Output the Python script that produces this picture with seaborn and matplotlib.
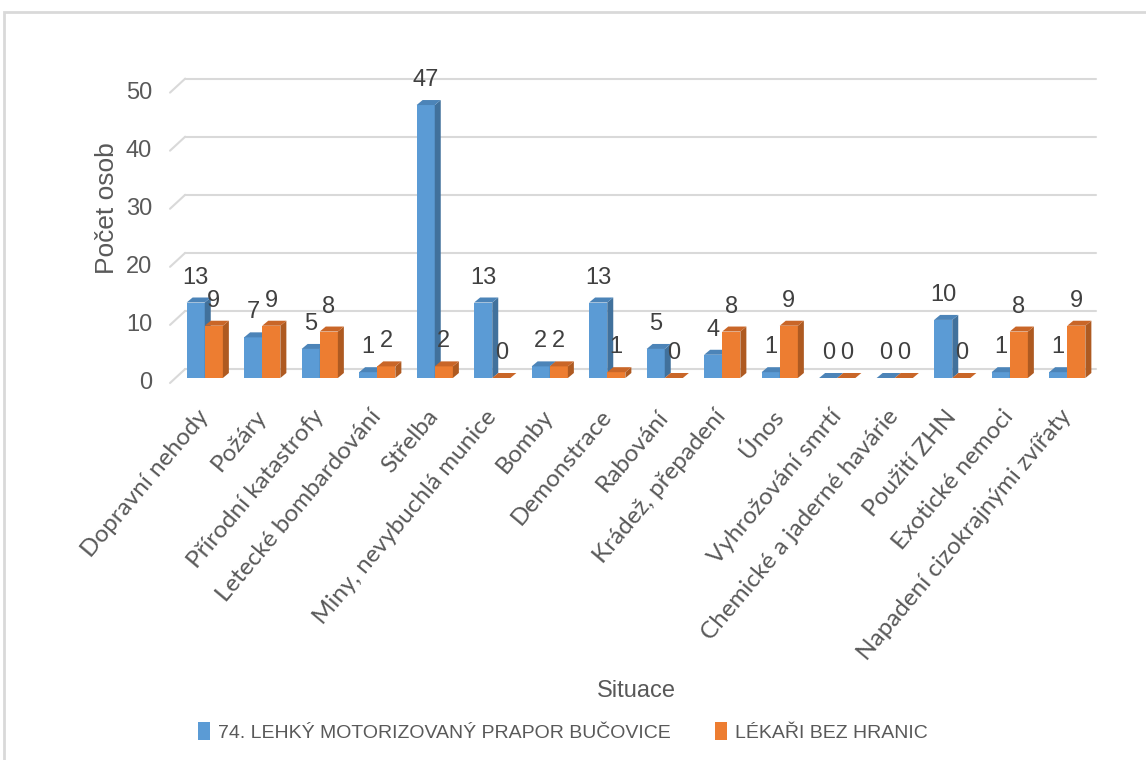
import pandas as pd
import matplotlib.pyplot as plt
import seaborn as sns
from matplotlib import font_manager, transforms
from matplotlib.patches import Polygon, Rectangle

# Data
situace = ['Dopravní nehody', 'Požáry', 'Přírodní katastrofy', 'Letecké bombardování',
           'Střelba', 'Miny, nevybuchlá munice', 'Bomby', 'Demonstrace', 'Rabování',
           'Krádež, přepadení', 'Únos', 'Vyhrožování smrtí', 'Chemické a jaderné havárie',
           'Použití ZHN', 'Exotické nemoci', 'Napadení cizokrajnými zvířaty']
prapor = [13, 7, 5, 1, 47, 13, 2, 13, 5, 4, 1, 0, 0, 10, 1, 1]
lekari = [9, 9, 8, 2, 2, 0, 2, 1, 0, 8, 9, 0, 0, 0, 8, 9]
skupiny = ['74. LEHKÝ MOTORIZOVANÝ PRAPOR BUČOVICE', 'LÉKAŘI BEZ HRANIC']
yticks = [0, 10, 20, 30, 40, 50]

barvy = ['#5B9BD5', '#ED7D31']
bocni = ['#41719C', '#AE5A21']
horni = ['#4C84B8', '#C96628']
sedy = '#595959'

df = pd.DataFrame({
    'Situace': situace * 2,
    'Počet osob': prapor + lekari,
    'Skupina': [skupiny[0]] * len(situace) + [skupiny[1]] * len(situace),
})

sns.set_style('white')
names = {f.name for f in font_manager.fontManager.ttflist}
narrow = 'Liberation Sans Narrow' if 'Liberation Sans Narrow' in names else 'Liberation Sans'
plt.rcParams['font.family'] = [narrow, 'DejaVu Sans']

fig = plt.figure(figsize=(11.46, 7.6), dpi=100)
W, H = 1146, 760
ax = fig.add_axes([176 / W, (H - 378) / H, 920 / W, (378 - 76) / H])

sns.barplot(data=df, x='Situace', y='Počet osob', hue='Skupina', palette=barvy,
            width=0.63, saturation=1, linewidth=0, ax=ax)
handles, labels = ax.get_legend_handles_labels()
ax.legend_.remove()

ax.set_xlim(-0.5, len(situace) - 0.5)
ax.set_ylim(0, 52)
for s in ax.spines.values():
    s.set_visible(False)
ax.tick_params(length=0)

# pixel scale
px_x = ax.transData.transform((1, 0))[0] - ax.transData.transform((0, 0))[0]
px_y = ax.transData.transform((0, 1))[1] - ax.transData.transform((0, 0))[1]
dx = 6 / px_x
dy = 5 / px_y

# 3D look: side and top faces for each bar
for i, cont in enumerate(ax.containers):
    for bar in cont:
        x, w, h = bar.get_x(), bar.get_width(), bar.get_height()
        bar.set_zorder(3 + i)
        side = Polygon([(x + w, 0), (x + w + dx, dy), (x + w + dx, h + dy), (x + w, h)],
                       closed=True, facecolor=bocni[i], edgecolor='none', zorder=3.1 + i)
        top = Polygon([(x, h), (x + dx, h + dy), (x + w + dx, h + dy), (x + w, h)],
                      closed=True, facecolor=horni[i], edgecolor='none', zorder=3.2 + i)
        ax.add_patch(side)
        ax.add_patch(top)
    ax.bar_label(cont, padding=10, fontsize=17, color='#404040', zorder=6)

# gridlines on the back wall with a perspective stub
ax.set_yticks(yticks)
ax.set_yticklabels([])
blend = transforms.blended_transform_factory(ax.transAxes, ax.transData)
for t in yticks:
    back = t + 9 / px_y
    front = t - 5 / px_y
    ax.plot([0.01, 1.0], [back, back], transform=blend, color='#D9D9D9', lw=1.5,
            zorder=1, clip_on=False)
    ax.plot([-0.0065, 0.01], [front, back], transform=blend, color='#D9D9D9', lw=1.5,
            zorder=1, clip_on=False)
    ax.text(-0.026, front, str(t), transform=blend, ha='right', va='center',
            fontsize=17, color=sedy)

# category labels
ax.tick_params(axis='x', pad=25)
ax.set_xticks(range(len(situace)))
ax.set_xticklabels(situace, rotation=50, ha='right', va='center', rotation_mode='anchor',
                   fontsize=17.5, color=sedy, family=['Lato', 'DejaVu Sans'])

ax.set_xlabel('Situace', fontsize=17, color=sedy)
ax.xaxis.set_label_coords(0.5, -1.0)
ax.set_ylabel('Počet osob', fontsize=19, color=sedy,
              family=['Liberation Sans', 'DejaVu Sans'])
ax.yaxis.set_label_coords(-0.062, 0.563)

fig.legend(handles, labels, loc='center', bbox_to_anchor=(563 / W, 1 - 732 / H), ncol=2,
           frameon=False, fontsize=14, labelcolor=sedy, handlelength=0.6,
           handleheight=1.0, handletextpad=0.4, columnspacing=2.3)

# chart border
fig.patches.append(Rectangle((4 / W, -0.1), 1.2, 1.1 - 12 / H, transform=fig.transFigure,
                             fill=False, edgecolor='#D9D9D9', lw=2))

fig.savefig('out.png', dpi=100)
